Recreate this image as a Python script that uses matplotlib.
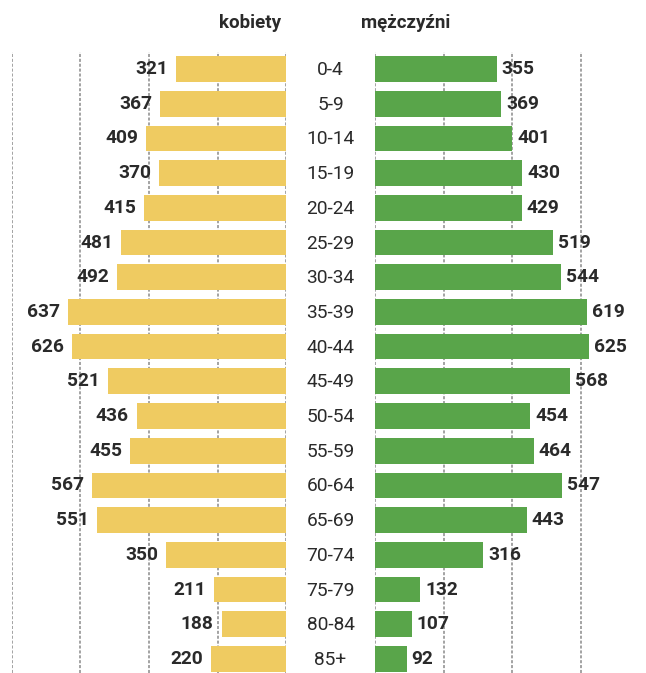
import matplotlib
matplotlib.use("Agg")
import matplotlib.pyplot as plt

categories = ["0-4", "5-9", "10-14", "15-19", "20-24", "25-29", "30-34", "35-39",
              "40-44", "45-49", "50-54", "55-59", "60-64", "65-69", "70-74",
              "75-79", "80-84", "85+"]
kobiety = [321, 367, 409, 370, 415, 481, 492, 637, 626, 521, 436, 455, 567, 551,
           350, 211, 188, 220]
mezczyzni = [355, 369, 401, 430, 429, 519, 544, 619, 625, 568, 454, 464, 547, 443,
             316, 132, 107, 92]
grid_ticks = [0, 200, 400, 600, 800]

plt.rcParams['font.family'] = ['Roboto', 'DejaVu Sans']

W, H = 646, 673
fig = plt.figure(figsize=(W / 100, H / 100), dpi=100)
fig.patch.set_facecolor('white')

yellow = '#EFCB61'
green = '#59A54A'
txt = '#2a2a2a'

top_px, bot_px = 52, 673
row0_px, step_px = 69, 34.7
y_top = -(row0_px - top_px) / step_px
y_bot = (len(categories) - 1) + (bot_px - (row0_px + step_px * (len(categories) - 1))) / step_px

scale = 274.0 / 800  # px per unit
axL_left, axL_right = 286 - 800 * scale, 286
axR_left = 375
axR_max = (W - axR_left) / scale

axL = fig.add_axes([axL_left / W, 0, (axL_right - axL_left) / W, 1 - top_px / H])
axR = fig.add_axes([axR_left / W, 0, (W - axR_left) / W, 1 - top_px / H])

y = list(range(len(categories)))
axL.barh(y, kobiety, height=0.74, color=yellow, zorder=3)
axR.barh(y, mezczyzni, height=0.74, color=green, zorder=3)

axL.set_xlim(800, 0)
axR.set_xlim(0, axR_max)
for ax in (axL, axR):
    ax.set_ylim(y_bot, y_top)
    for t in grid_ticks:
        ax.axvline(t, color='#8a8a8a', lw=1.1, ls=(0, (2, 1.2)), zorder=1)
    for s in ax.spines.values():
        s.set_visible(False)
    ax.set_xticks([])
    ax.set_yticks([])
    ax.patch.set_alpha(0)

for i, v in enumerate(kobiety):
    axL.annotate(str(v), (v, i), xytext=(-8, 0), textcoords='offset pixels',
                 ha='right', va='center', fontsize=13.8, fontweight='bold', color=txt, zorder=4)
for i, v in enumerate(mezczyzni):
    axR.annotate(str(v), (v, i), xytext=(5, 0), textcoords='offset pixels',
                 ha='left', va='center', fontsize=13.8, fontweight='bold', color=txt, zorder=4)

cx = 330.5 / W
for i, c in enumerate(categories):
    yy = row0_px + step_px * i
    fig.text(cx, 1 - (yy + 1) / H, c, ha='center', va='center', fontsize=13.8, color=txt)

fig.text(250 / W, 1 - 23 / H, 'kobiety', ha='center', va='center', fontsize=13.5,
         fontweight='bold', color=txt)
fig.text(406 / W, 1 - 23 / H, 'mężczyźni', ha='center', va='center', fontsize=13.5,
         fontweight='bold', color=txt)

fig.savefig('out.png', dpi=100, facecolor='white')
